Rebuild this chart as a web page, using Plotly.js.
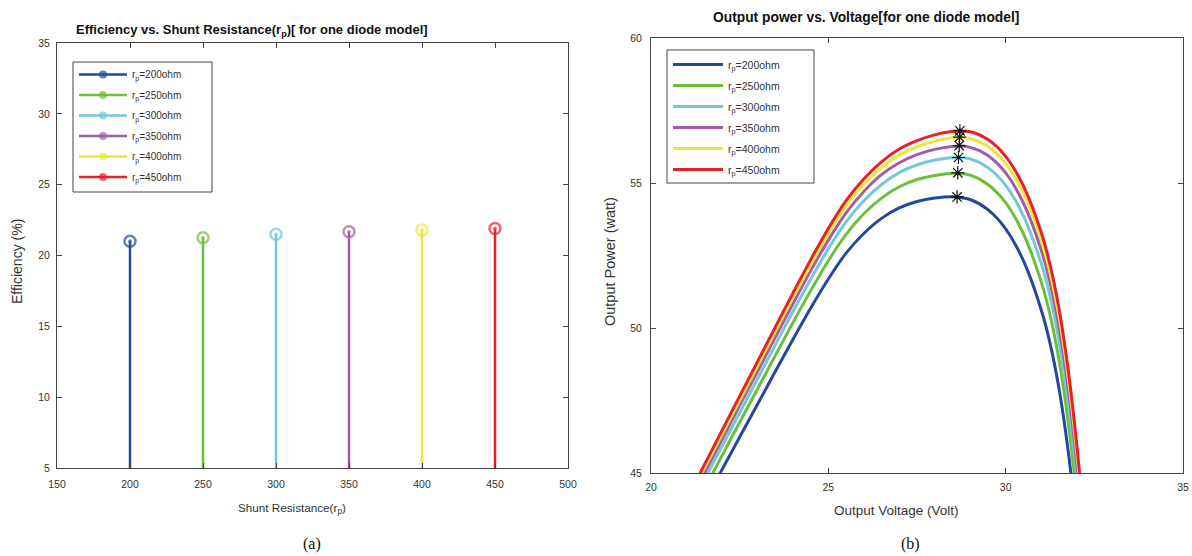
<!DOCTYPE html>
<html>
<head>
<meta charset="utf-8">
<script src="https://cdn.plot.ly/plotly-3.0.1.min.js"></script>
<style>html,body{margin:0;padding:0;background:#fff;}#chart{width:1192px;height:556px;}</style>
</head>
<body>
<div id="chart"></div>
<script>
// ---- data ----
const shuntResistance = [200, 250, 300, 350, 400, 450];
const efficiency = [21.0, 21.25, 21.5, 21.68, 21.8, 21.9];
const seriesNames = ['r<sub>p</sub>=200ohm', 'r<sub>p</sub>=250ohm', 'r<sub>p</sub>=300ohm', 'r<sub>p</sub>=350ohm', 'r<sub>p</sub>=400ohm', 'r<sub>p</sub>=450ohm'];
const colors = ['#24489c', '#6cbf3a', '#72c8d8', '#a45ba6', '#ebe83a', '#e8202a'];

const voltage = [21.0, 21.5, 22.0, 22.5, 23.0, 23.5, 24.0, 24.5, 25.0, 25.5, 26.0, 26.5, 27.0, 27.5, 28.0, 28.6, 29.0, 29.5, 30.0, 30.5, 31.0, 31.25, 31.5, 31.75, 32.0, 32.25];
const power200 = [42.86, 43.99, 45.11, 46.24, 47.36, 48.49, 49.6, 50.68, 51.69, 52.58, 53.26, 53.78, 54.14, 54.36, 54.48, 54.52, 54.43, 54.08, 53.42, 52.32, 50.64, 49.48, 47.94, 45.88, 43.19, 39.9];
const power250 = [43.30, 44.45, 45.59, 46.75, 47.89, 49.04, 50.18, 51.28, 52.32, 53.23, 53.94, 54.48, 54.87, 55.12, 55.26, 55.34, 55.27, 54.95, 54.32, 53.25, 51.6, 50.46, 48.93, 46.89, 44.21, 40.94];
const power300 = [43.6, 44.76, 45.92, 47.08, 48.24, 49.41, 50.56, 51.68, 52.73, 53.66, 54.39, 54.95, 55.36, 55.62, 55.79, 55.88, 55.83, 55.53, 54.92, 53.87, 52.24, 51.11, 49.59, 47.56, 44.9, 41.63];
const power350 = [43.81, 44.98, 46.15, 47.33, 48.49, 49.67, 50.83, 51.97, 53.03, 53.97, 54.71, 55.29, 55.7, 55.98, 56.16, 56.27, 56.23, 55.95, 55.35, 54.31, 52.7, 51.57, 50.07, 48.04, 45.38, 42.13];
const power400 = [43.96, 45.15, 46.32, 47.51, 48.68, 49.87, 51.04, 52.18, 53.25, 54.21, 54.95, 55.54, 55.96, 56.25, 56.44, 56.57, 56.53, 56.26, 55.67, 54.65, 53.04, 51.92, 50.42, 48.4, 45.75, 42.5];
const power450 = [44.09, 45.27, 46.46, 47.65, 48.83, 50.02, 51.2, 52.35, 53.43, 54.39, 55.14, 55.73, 56.17, 56.46, 56.66, 56.79, 56.77, 56.5, 55.92, 54.9, 53.31, 52.19, 50.7, 48.68, 46.04, 42.79];
const powerSeries = [power200, power250, power300, power350, power400, power450];
const mppVoltage = [28.63, 28.65, 28.67, 28.69, 28.7, 28.71];
const mppPower = [54.52, 55.35, 55.88, 56.29, 56.58, 56.8];
const stemBase = 0;

// ---- traces ----
const FONT = 'Arial, "Liberation Sans", Helvetica, sans-serif';
const traces = [];
shuntResistance.forEach((r, i) => {
  traces.push({
    x: [r, r], y: [stemBase, efficiency[i]],
    xaxis: 'x', yaxis: 'y',
    mode: 'lines+markers', name: seriesNames[i],
    legend: 'legend', legendgroup: 'a' + i,
    line: {color: colors[i], width: 2.5},
    marker: {symbol: 'circle-open-dot', size: [0, 11], color: colors[i], line: {width: 2.5, color: colors[i]}},
    hoverinfo: 'skip'
  });
});
powerSeries.forEach((p, i) => {
  traces.push({
    x: voltage, y: p, xaxis: 'x2', yaxis: 'y2',
    mode: 'lines', name: seriesNames[i],
    legend: 'legend2', legendgroup: 'b' + i,
    line: {color: colors[i], width: 3, shape: 'spline', smoothing: 0.8},
    hoverinfo: 'skip'
  });
});
traces.push({
  x: mppVoltage, y: mppPower, xaxis: 'x2', yaxis: 'y2',
  mode: 'markers', showlegend: false,
  marker: {symbol: 'asterisk-open', size: 11, color: '#111', line: {width: 1.2, color: '#111'}},
  hoverinfo: 'skip'
});

const axisBase = {
  showgrid: false, zeroline: false, showline: true, linecolor: '#444', linewidth: 1,
  mirror: 'ticks', ticks: 'inside', ticklen: 5, tickcolor: '#444',
  tickfont: {family: FONT, size: 10.5, color: '#333'}, fixedrange: true
};

const W = 1192, H = 556;
const px = v => v / W, py = v => 1 - v / H;
function label(text, x, y, size, opts) {
  return Object.assign({
    text: text, x: px(x), y: py(y), xref: 'paper', yref: 'paper',
    xanchor: 'center', yanchor: 'middle', showarrow: false,
    font: {family: FONT, size: size, color: '#333'}
  }, opts || {});
}
function frame(x0, y0, x1, y1) {
  return {type: 'rect', xref: 'paper', yref: 'paper', x0: px(x0), x1: px(x1), y0: py(y1), y1: py(y0),
    line: {color: '#444', width: 1}, fillcolor: '#fff', layer: 'above'};
}

const layout = {
  width: W, height: H,
  margin: {l: 0, r: 0, t: 0, b: 0},
  paper_bgcolor: '#fff', plot_bgcolor: '#fff',
  showlegend: true,
  xaxis: Object.assign({}, axisBase, {domain: [px(57), px(568)], range: [150, 500], tickvals: [150, 200, 250, 300, 350, 400, 450, 500], anchor: 'y', ticklabelstandoff: 6}),
  yaxis: Object.assign({}, axisBase, {domain: [py(468), py(43)], range: [5, 35], tickvals: [5, 10, 15, 20, 25, 30, 35], anchor: 'x', ticklabelstandoff: 4}),
  xaxis2: Object.assign({}, axisBase, {domain: [px(651), px(1183)], range: [20, 35], tickvals: [20, 25, 30, 35], anchor: 'y2', ticklabelstandoff: 4}),
  yaxis2: Object.assign({}, axisBase, {domain: [py(473), py(38)], range: [45, 60], tickvals: [45, 50, 55, 60], anchor: 'x2', ticklabelstandoff: 6}),
  legend: {
    x: px(74), y: py(60), xanchor: 'left', yanchor: 'top',
    bgcolor: 'rgba(0,0,0,0)', borderwidth: 0,
    font: {family: FONT, size: 10, color: '#333'}, tracegroupgap: 1.5, itemwidth: 48
  },
  legend2: {
    x: px(668), y: py(50), xanchor: 'left', yanchor: 'top',
    bgcolor: 'rgba(0,0,0,0)', borderwidth: 0,
    font: {family: FONT, size: 10.5, color: '#333'}, tracegroupgap: 2, itemwidth: 50
  },
  shapes: [frame(73, 62, 212, 192), frame(667, 50, 814, 183)],
  annotations: [
    label('<b>Efficiency vs. Shunt Resistance(r<sub>p</sub>)[ for one diode model]</b>', 252, 30, 13, {font: {family: FONT, size: 13, color: '#111'}}),
    label('<b>Output power vs. Voltage[for one diode model]</b>', 866, 17, 13.8, {font: {family: FONT, size: 13.8, color: '#111'}}),
    label('Shunt Resistance(r<sub>p</sub>)', 292, 508, 11.7),
    label('Efficiency (%)', 17, 262, 14, {textangle: -90}),
    label('Output Voltage (Volt)', 896, 511, 13.5),
    label('Output Power (watt)', 610, 262, 14.5, {textangle: -90}),
    label('(a)', 312, 544, 16, {font: {family: '"Liberation Serif", "DejaVu Serif", serif', size: 16, color: '#111'}}),
    label('(b)', 910, 544, 16, {font: {family: '"Liberation Serif", "DejaVu Serif", serif', size: 16, color: '#111'}})
  ]
};

Plotly.newPlot('chart', traces, layout, {staticPlot: true, displayModeBar: false});
</script>
</body>
</html>
